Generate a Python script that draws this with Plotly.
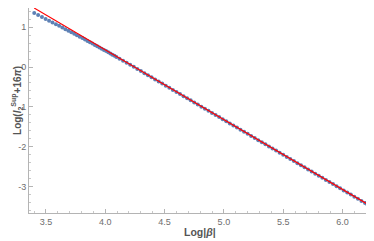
import plotly.graph_objects as go

# numerical points (Log|beta|, Log(I2^Sup + 16 pi))
pts_x = [3.401, 3.434, 3.466, 3.497, 3.526, 3.555, 3.584, 3.611, 3.638, 3.664,
         3.689, 3.714, 3.738, 3.761, 3.784, 3.807, 3.829, 3.850, 3.871, 3.892,
         3.912, 3.932, 3.951, 3.970, 3.989, 4.007, 4.025, 4.043, 4.060, 4.078,
         4.094,
         4.12, 4.15, 4.18, 4.21, 4.24, 4.27, 4.30, 4.33, 4.36, 4.39,
         4.42, 4.45, 4.48, 4.51, 4.54, 4.57, 4.60, 4.63, 4.66, 4.69,
         4.72, 4.75, 4.78, 4.81, 4.84, 4.87, 4.90, 4.93, 4.96, 4.99,
         5.02, 5.05, 5.08, 5.11, 5.14, 5.17, 5.20, 5.23, 5.26, 5.29,
         5.32, 5.35, 5.38, 5.41, 5.44, 5.47, 5.50, 5.53, 5.56, 5.59,
         5.62, 5.65, 5.68, 5.71, 5.74, 5.77, 5.80, 5.83, 5.86, 5.89,
         5.92, 5.95, 5.98, 6.01, 6.04, 6.07, 6.10, 6.13, 6.16, 6.19, 6.21]
pts_y = [1.352, 1.302, 1.254, 1.207, 1.162, 1.117, 1.074, 1.032, 0.990, 0.950,
         0.910, 0.872, 0.834, 0.797, 0.761, 0.725, 0.690, 0.655, 0.621, 0.588,
         0.555, 0.522, 0.491, 0.461, 0.429, 0.400, 0.369, 0.340, 0.310, 0.281,
         0.253,
         0.210, 0.160, 0.108, 0.056, 0.004, -0.049, -0.101, -0.153, -0.206, -0.258,
         -0.311, -0.363, -0.416, -0.468, -0.521, -0.573, -0.626, -0.678, -0.731, -0.783,
         -0.836, -0.888, -0.941, -0.993, -1.046, -1.098, -1.151, -1.203, -1.256, -1.308,
         -1.361, -1.413, -1.466, -1.518, -1.571, -1.623, -1.676, -1.728, -1.781, -1.833,
         -1.886, -1.938, -1.991, -2.043, -2.096, -2.148, -2.201, -2.253, -2.306, -2.358,
         -2.411, -2.463, -2.516, -2.568, -2.621, -2.673, -2.726, -2.778, -2.831, -2.883,
         -2.936, -2.988, -3.041, -3.093, -3.146, -3.198, -3.251, -3.303, -3.356, -3.408, -3.444]

# asymptotic fit line
fit_x = [3.401, 6.215]
fit_y = [1.478, -3.446]

x_ticks = [3.5, 4.0, 4.5, 5.0, 5.5, 6.0]
y_ticks = [-3, -2, -1, 0, 1]

fig = go.Figure()
fig.add_scatter(x=pts_x, y=pts_y, mode="markers",
                marker=dict(size=4, color="#5E81B5", line=dict(width=0)))
fig.add_scatter(x=fit_x, y=fit_y, mode="lines",
                line=dict(color="#FF0000", width=1.2))

axis_common = dict(
    showgrid=False, zeroline=False, showline=True, linecolor="#B4B4B4", linewidth=1,
    ticks="inside", ticklen=4, tickcolor="#B4B4B4", tickwidth=1, automargin=False,
    tickfont=dict(family="Liberation Sans", size=9, color="#6E6E6E"),
)
fig.update_xaxes(range=[3.357, 6.232], tickvals=x_ticks,
                 ticktext=[f"{v:.1f}" for v in x_ticks],
                 minor=dict(ticks="inside", ticklen=2, tickcolor="#C8C8C8", dtick=0.1),
                 **axis_common)
fig.update_yaxes(range=[-3.66, 1.48], tickvals=y_ticks,
                 ticktext=[str(v) for v in y_ticks],
                 minor=dict(ticks="inside", ticklen=2, tickcolor="#C8C8C8", dtick=0.2),
                 **axis_common)

label_font = dict(family="Liberation Sans", size=10.5, color="#555555")
fig.add_annotation(xref="paper", yref="paper", x=0.501, y=-0.093,
                   text="<b>Log|<i>β</i>|</b>", showarrow=False,
                   xanchor="center", yanchor="middle", font=label_font)
fig.add_annotation(xref="paper", yref="paper", x=-0.036, y=0.55,
                   text="<b>Log(<i>I</i><sub>2</sub><sup>Sup</sup>+16<i>π</i>)</b>",
                   showarrow=False, textangle=-90,
                   xanchor="center", yanchor="middle",
                   font=dict(family="Liberation Sans", size=10, color="#555555"))

fig.update_layout(
    width=366, height=233, showlegend=False,
    margin=dict(l=21, r=4, t=0, b=28, autoexpand=False),
    paper_bgcolor="white", plot_bgcolor="white",
)

fig.write_html("out.html")
